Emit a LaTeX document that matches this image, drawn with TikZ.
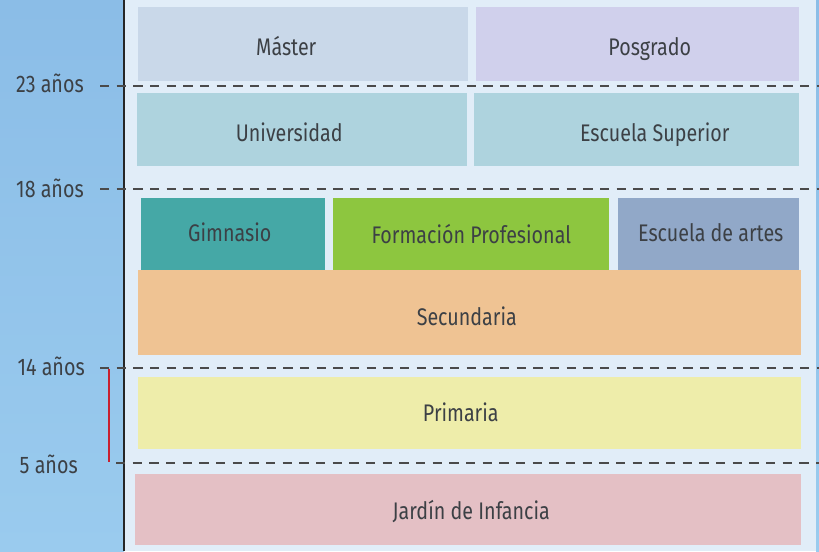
\documentclass[tikz,border=0pt]{standalone}
\usepackage{fontspec}
\setmainfont{Fira Sans}[FakeStretch=0.82]
\usetikzlibrary{positioning}

\definecolor{sidetop}{HTML}{8BBDE7}
\definecolor{sidebot}{HTML}{9ACBEE}
\definecolor{mainbg}{HTML}{E1EDF8}
\definecolor{txtgray}{HTML}{3C4045}
\definecolor{guidegray}{HTML}{4A4A4A}
\definecolor{cMaster}{HTML}{C9D8E9}
\definecolor{cPosgrado}{HTML}{D0D0EC}
\definecolor{cUni}{HTML}{AED3DE}
\definecolor{cGim}{HTML}{45A8A6}
\definecolor{cFP}{HTML}{8DC63F}
\definecolor{cArtes}{HTML}{91A8C8}
\definecolor{cSec}{HTML}{EFC393}
\definecolor{cPrim}{HTML}{EEEDAA}
\definecolor{cJardin}{HTML}{E4C0C5}
\definecolor{cRed}{HTML}{C8202F}

\tikzset{
  stage/.style={anchor=north west, inner sep=0pt, text=txtgray,
                text height=12.4pt, text depth=0pt,
                font=\fontsize{18pt}{20pt}\selectfont},
  lower/.style={text height=12.4pt+#1},
  raise/.style={text depth=#1},
  % move the label off centre: left or right by half the given length
  tleft/.style={execute at begin node={\hspace*{-#1}}},
  tright/.style={execute at end node={\hspace*{-#1}}},
  age/.style={anchor=east, inner sep=0pt, text=txtgray,
              font=\fontsize{18pt}{20pt}\selectfont},
  guide/.style={draw=guidegray, line width=1.5pt, dash pattern=on 7pt off 5.5pt}
}

\begin{document}
\begin{tikzpicture}[x=0.75pt, y=-0.75pt]
\useasboundingbox (0,0) rectangle (819,551);
% background
\shade[top color=sidetop, bottom color=sidebot] (0,0) rectangle (124,551);
\fill[mainbg] (124,0) rectangle (816,551);
\shade[top color=sidetop, bottom color=sidebot] (816,0) rectangle (819,551);
\draw[black!85, line width=2.2pt] (124,0) -- (124,551);

% stages
\begin{scope}[every node/.append style={stage}]
  \node[fill=cMaster, minimum width=247.5pt, minimum height=55.5pt, lower=4.5pt, tleft=25.5pt] (master) at (138,7) {Máster};
  \node[fill=cPosgrado, minimum width=242.25pt, minimum height=55.5pt, lower=4.5pt, tright=18pt] (posgrado) at (476,7) {Posgrado};
  \node[fill=cUni, minimum width=247.5pt, minimum height=54.75pt, lower=4.5pt, tleft=19.5pt] (uni) at (137,93) {Universidad};
  \node[fill=cUni, minimum width=243.75pt, minimum height=54.75pt, lower=4.5pt, tright=27pt] (superior) at (474,93) {Escuela Superior};
  \node[fill=cSec, minimum width=497.25pt, minimum height=63.75pt, lower=6.75pt, tleft=4.5pt] (secundaria) at (138,270) {Secundaria};
  \node[fill=cGim, minimum width=138pt, minimum height=54pt, raise=1.5pt, tleft=5.25pt] (gimnasio) at (141,198) {Gimnasio};
  \node[fill=cFP, minimum width=207pt, minimum height=54pt, lower=1.5pt] (fp) at (333,198) {Formación Profesional};
  \node[fill=cArtes, minimum width=135.75pt, minimum height=54pt, raise=1.5pt, tright=3pt] (artes) at (618,198) {Escuela de artes};
  \node[fill=cPrim, minimum width=497.25pt, minimum height=54pt, tleft=13.5pt] (primaria) at (138,377) {Primaria};
  \node[fill=cJardin, minimum width=499.5pt, minimum height=53.25pt, lower=2.25pt, tright=4.5pt] (jardin) at (135,474) {Jardín de Infancia};
\end{scope}

% ages
\node[age] (a23) at (84,83) {23 años};
\node[age] (a18) at (84,188) {18 años};
\node[age] (a14) at (85,366) {14 años};
\node[age] (a5) at (78,464) {5 años};

\draw[guide] (100,86) -- (819,86);
\draw[guide] (100,189) -- (819,189);
\draw[guide] (100,368) -- (819,368);
\draw[guide] (116,463) -- (819,463);

\draw[cRed, line width=2.2pt] (109,369) -- (109,462);
\end{tikzpicture}
\end{document}
